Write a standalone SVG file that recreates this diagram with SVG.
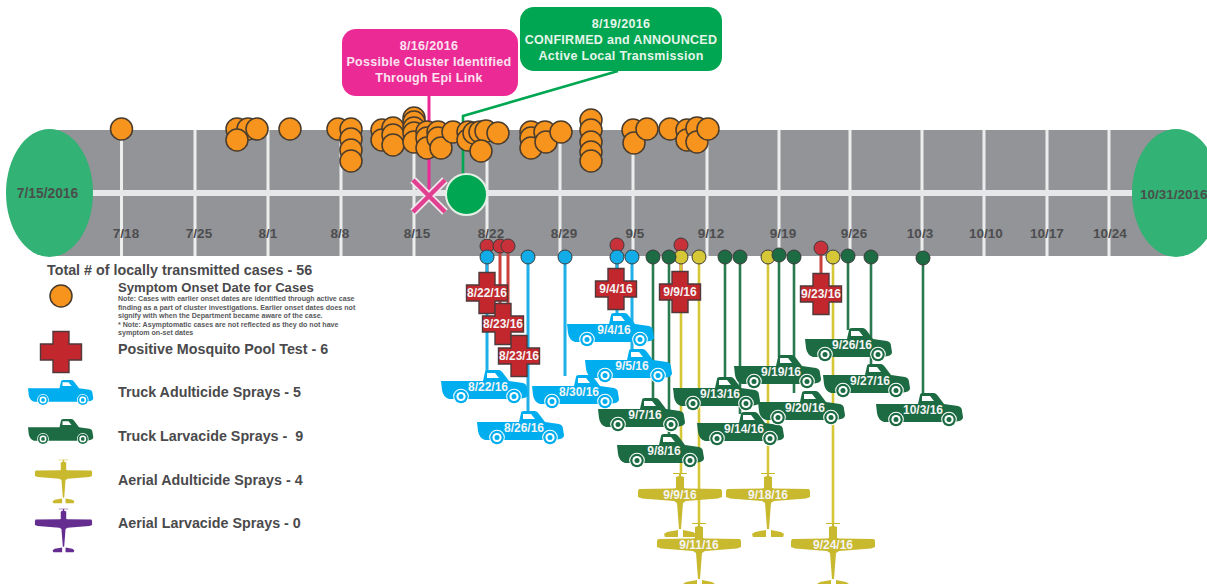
<svg xmlns="http://www.w3.org/2000/svg" width="1207" height="584" viewBox="0 0 1207 584">
<style>
text{font-family:"Liberation Sans",Arial,sans-serif;font-weight:700}
.tick{font-size:13.5px;fill:#4d4d4f;text-anchor:middle}
.leg{font-size:14.3px;fill:#4a4a4c}
.note{font-size:7.1px;fill:#58595b}
.lab{font-size:12px;fill:#f4f4f4;text-anchor:middle}
.call{font-size:12.5px;text-anchor:middle;letter-spacing:.3px}
.o{fill:#f7941e;stroke:#4a3c2c;stroke-width:1.5}
.d{stroke:#3c3c3c;stroke-width:1}
.grid{stroke:#eceded;stroke-width:3}
.cb{fill:none;stroke-width:3}
.red{stroke:#c9403c}.blue{stroke:#1fb0e8}.gr{stroke:#2a7a50;stroke-width:2.6}.ye{stroke:#d6c736;stroke-width:2.6}
</style>
<defs>
<g id="truck"><path d="M0,11L42,11L44,2Q44,0 47,0L58,0Q60,0 62,3L68,11L82,13Q86,14 86,18L87,24Q87,27 83,28L78,29L8,29Q2,27 1,20Z"/><path d="M46,3L54,3L58,8L46,8Z" fill="#fff"/><circle cx="20" cy="26.500" r="7.800" fill="#fff"/><circle cx="73" cy="26.500" r="7.800" fill="#fff"/><circle cx="20" cy="26.500" r="6.800"/><circle cx="73" cy="26.500" r="6.800"/><circle cx="20" cy="26.500" r="4.600" fill="#fff"/><circle cx="73" cy="26.500" r="4.600" fill="#fff"/><circle cx="20" cy="26.500" r="2.500"/><circle cx="73" cy="26.500" r="2.500"/></g>
<g id="plane"><path d="M-7,1L7,1L7,2L1,2L1,4L4,5L4,16L6,16.500L41,17L42,19L42,25L38,26.500L6,29L3,31L1,57L-1,57L-3,31L-6,29L-38,26.500L-42,25L-42,19L-41,17L-6,16.500L-4,16L-4,5L-1,4L-1,2L-7,2Z"/><path d="M-2,58L-2,65L-15,65L-16,62L-13,60ZM3,58L3,65L15,65L16,62L13,60Z"/></g>
<path id="cross" d="M-8,-20.500H8V-8H20.500V8H8V20.500H-8V8H-20.500V-8H-8Z" fill="#c1272d" stroke="#50393a" stroke-width="1.400"/>
</defs>
<g id="timeline">
<rect x="48" y="130" width="1127" height="126" fill="#929497"/>
<path class="grid" d="M121.500,130V256M195,130V256M268,130V256M341,130V256M414,130V256M487,130V256M560,130V256M633,130V256M707,130V256M779,130V256M850,130V256M922,130V256M984,130V256M1047,130V256M1109,130V256"/>
<rect x="48" y="190" width="1127" height="6" fill="#e6e7e8"/>
<text class="tick" x="126" y="238">7/18</text><text class="tick" x="199" y="238">7/25</text><text class="tick" x="268" y="238">8/1</text><text class="tick" x="340" y="238">8/8</text><text class="tick" x="417" y="238">8/15</text><text class="tick" x="491" y="238">8/22</text><text class="tick" x="564" y="238">8/29</text><text class="tick" x="635" y="238">9/5</text><text class="tick" x="711" y="238">9/12</text><text class="tick" x="783" y="238">9/19</text><text class="tick" x="854" y="238">9/26</text><text class="tick" x="920" y="238">10/3</text><text class="tick" x="986" y="238">10/10</text><text class="tick" x="1047" y="238">10/17</text><text class="tick" x="1110" y="238">10/24</text>
</g>
<g id="start"><ellipse cx="49.500" cy="193" rx="43.500" ry="64" fill="#32b274"/><text x="47.500" y="198" font-size="13.800" fill="#4a4f4c" text-anchor="middle">7/15/2016</text></g>
<g id="end"><ellipse cx="1176" cy="193" rx="44" ry="64" fill="#32b274"/><text x="1140" y="199" font-size="13.500" fill="#4a4f4c">10/31/2016</text></g>
<g id="connectors">
<path d="M429,96V194" fill="none" stroke="#ec2a96" stroke-width="3"/>
<path d="M618,71L463,116V175" fill="none" stroke="#00a651" stroke-width="2.600"/>
<g class="cb red"><path d="M487,246V275M500,246V305M508,246V340M617,245V270M681,245V275M821,248V275"/></g>
<g class="cb blue"><path d="M487,257V372M528,257V412M565,257V376M617,257V315M632,257V351"/></g>
<g class="cb gr"><path d="M653,257V400M669,257V436M725,257V379M740,257V414M779,257V357M794,257V393M848,257V330M871,257V366M923,257V395"/></g>
<g class="cb ye"><path d="M681,257V474M699,257V524M768,257V474M833,257V524"/></g>
</g>
<g id="cases">
<circle class="o" cx="121.500" cy="129" r="11"/><circle class="o" cx="237" cy="129" r="11"/><circle class="o" cx="248" cy="129" r="11"/><circle class="o" cx="237" cy="140" r="11"/><circle class="o" cx="257" cy="129" r="11"/><circle class="o" cx="290" cy="129" r="11"/><circle class="o" cx="338" cy="129" r="11"/><circle class="o" cx="351" cy="129" r="11"/><circle class="o" cx="351" cy="139" r="11"/><circle class="o" cx="351" cy="150" r="11"/><circle class="o" cx="351" cy="161" r="11"/>
<circle class="o" cx="382" cy="130" r="11"/><circle class="o" cx="382" cy="140" r="11"/><circle class="o" cx="393" cy="128" r="11"/><circle class="o" cx="393" cy="135" r="11"/><circle class="o" cx="393" cy="145" r="11"/>
<circle class="o" cx="414" cy="118" r="11"/><circle class="o" cx="414" cy="122" r="11"/><circle class="o" cx="414" cy="128" r="11"/><circle class="o" cx="414" cy="133" r="11"/><circle class="o" cx="414" cy="142" r="11"/>
<circle class="o" cx="427" cy="132" r="11"/><circle class="o" cx="427" cy="138" r="11"/><circle class="o" cx="427" cy="148" r="11"/><circle class="o" cx="438" cy="132" r="11"/><circle class="o" cx="438" cy="138" r="11"/><circle class="o" cx="441" cy="148" r="11"/><circle class="o" cx="453" cy="132" r="11"/>
<circle class="o" cx="468" cy="132" r="11"/><circle class="o" cx="468" cy="140" r="11"/><circle class="o" cx="474" cy="133" r="11"/><circle class="o" cx="480" cy="132" r="11"/><circle class="o" cx="486" cy="131" r="11"/><circle class="o" cx="481" cy="151" r="11"/><circle class="o" cx="498" cy="133" r="11"/>
<circle class="o" cx="531" cy="132" r="11"/><circle class="o" cx="531" cy="138" r="11"/><circle class="o" cx="531" cy="148" r="11"/><circle class="o" cx="545" cy="132" r="11"/><circle class="o" cx="546" cy="142" r="11"/><circle class="o" cx="561" cy="132" r="11"/>
<circle class="o" cx="591" cy="120" r="11"/><circle class="o" cx="591" cy="130" r="11"/><circle class="o" cx="591" cy="142" r="11"/><circle class="o" cx="591" cy="152" r="11"/><circle class="o" cx="591" cy="161" r="11"/>
<circle class="o" cx="633" cy="130" r="11"/><circle class="o" cx="634" cy="143" r="11"/><circle class="o" cx="647" cy="129" r="11"/>
<circle class="o" cx="670" cy="129" r="11"/><circle class="o" cx="687" cy="130" r="11"/><circle class="o" cx="687" cy="140" r="11"/><circle class="o" cx="697" cy="128" r="11"/><circle class="o" cx="697" cy="142" r="11"/><circle class="o" cx="708" cy="129" r="11"/>
</g>
<g id="cluster-x"><path d="M413,180L445,212M445,180L413,212" stroke="#f3e4ec" stroke-width="8" fill="none"/><path d="M413,180L445,212M445,180L413,212" stroke="#e0408f" stroke-width="4.500" fill="none"/></g>
<g id="confirmed-dot"><circle cx="466.500" cy="194.500" r="20.500" fill="#00a651" stroke="#e4efe6" stroke-width="2"/></g>
<g id="callout-816"><rect x="342" y="29" width="176" height="67" rx="14" fill="#ec2a96"/><g class="call" fill="#fbe3ef"><text x="429" y="50">8/16/2016</text><text x="429" y="66">Possible Cluster Identified</text><text x="429" y="82">Through Epi Link</text></g></g>
<g id="callout-819"><rect x="520" y="7" width="202" height="64" rx="14" fill="#00a651"/><g class="call" fill="#e6f5ea"><text x="621" y="28">8/19/2016</text><text x="621" y="44">CONFIRMED and ANNOUNCED</text><text x="621" y="60">Active Local Transmission</text></g></g>
<g id="dots">
<g fill="#c8313a" class="d"><circle cx="487" cy="246" r="7"/><circle cx="500" cy="246" r="7"/><circle cx="508" cy="246" r="7"/><circle cx="617" cy="245" r="7"/><circle cx="681" cy="245" r="7"/><circle cx="821" cy="248" r="7"/></g>
<g fill="#12ade8" class="d"><circle cx="487" cy="257" r="7"/><circle cx="528" cy="257" r="7"/><circle cx="565" cy="257" r="7"/><circle cx="617" cy="257" r="7"/><circle cx="632" cy="257" r="7"/></g>
<g fill="#d6c736" class="d"><circle cx="681" cy="257" r="7"/><circle cx="699" cy="257" r="7"/><circle cx="768" cy="257" r="7"/><circle cx="833" cy="257" r="7"/></g>
<g fill="#1c6b42" class="d"><circle cx="653" cy="257" r="7"/><circle cx="669" cy="257" r="7"/><circle cx="725" cy="257" r="7"/><circle cx="740" cy="257" r="7"/><circle cx="779" cy="255" r="7"/><circle cx="794" cy="257" r="7"/><circle cx="848" cy="256" r="7"/><circle cx="871" cy="257" r="7"/><circle cx="923" cy="258" r="7"/></g>
</g>
<g fill="#00aeef">
<g id="truck-0822" transform="translate(441,370)"><use href="#truck"/><text class="lab" x="47" y="21">8/22/16</text></g>
<g id="truck-0826" transform="translate(477,411)"><use href="#truck"/><text class="lab" x="47" y="21">8/26/16</text></g>
<g id="truck-0830" transform="translate(532,375)"><use href="#truck"/><text class="lab" x="47" y="21">8/30/16</text></g>
<g id="truck-0904" transform="translate(567,313)"><use href="#truck"/><text class="lab" x="47" y="21">9/4/16</text></g>
<g id="truck-0905" transform="translate(585,349)"><use href="#truck"/><text class="lab" x="47" y="21">9/5/16</text></g>
</g>
<g fill="#1c6b42">
<g id="truck-0907" transform="translate(598,398)"><use href="#truck"/><text class="lab" x="47" y="21">9/7/16</text></g>
<g id="truck-0908" transform="translate(617,434)"><use href="#truck"/><text class="lab" x="47" y="21">9/8/16</text></g>
<g id="truck-0913" transform="translate(673,377)"><use href="#truck"/><text class="lab" x="47" y="21">9/13/16</text></g>
<g id="truck-0914" transform="translate(697,412)"><use href="#truck"/><text class="lab" x="47" y="21">9/14/16</text></g>
<g id="truck-0919" transform="translate(734,355)"><use href="#truck"/><text class="lab" x="47" y="21">9/19/16</text></g>
<g id="truck-0920" transform="translate(758,391)"><use href="#truck"/><text class="lab" x="47" y="21">9/20/16</text></g>
<g id="truck-0926" transform="translate(805,328)"><use href="#truck"/><text class="lab" x="47" y="21">9/26/16</text></g>
<g id="truck-0927" transform="translate(823,364)"><use href="#truck"/><text class="lab" x="47" y="21">9/27/16</text></g>
<g id="truck-1003" transform="translate(876,393)"><use href="#truck"/><text class="lab" x="47" y="21">10/3/16</text></g>
</g>
<g id="pool-0822a" transform="translate(487,293)"><use href="#cross"/><text class="lab" y="4">8/22/16</text></g>
<g id="pool-0823a" transform="translate(503,324)"><use href="#cross"/><text class="lab" y="4">8/23/16</text></g>
<g id="pool-0823b" transform="translate(519,356)"><use href="#cross"/><text class="lab" y="4">8/23/16</text></g>
<g id="pool-0904" transform="translate(616,289)"><use href="#cross"/><text class="lab" y="4">9/4/16</text></g>
<g id="pool-0909" transform="translate(680,292)"><use href="#cross"/><text class="lab" y="4">9/9/16</text></g>
<g id="pool-0923" transform="translate(821,294)"><use href="#cross"/><text class="lab" y="4">9/23/16</text></g>
<g fill="#c9b92f">
<g id="plane-0909" transform="translate(680,472)"><use href="#plane"/><text class="lab" y="27">9/9/16</text></g>
<g id="plane-0918" transform="translate(768,472)"><use href="#plane"/><text class="lab" y="27">9/18/16</text></g>
<g id="plane-0911" transform="translate(699,522)"><use href="#plane"/><text class="lab" y="27">9/11/16</text></g>
<g id="plane-0924" transform="translate(833,522)"><use href="#plane"/><text class="lab" y="27">9/24/16</text></g>
</g>
<g id="legend">
<text class="leg" x="47" y="275">Total # of locally transmitted cases - 56</text>
<circle class="o" cx="61" cy="296" r="11"/>
<text class="leg" x="118" y="292" style="font-size:13.100px">Symptom Onset Date for Cases</text>
<text class="note" x="118" y="301">Note: Cases with earlier onset dates are identified through active case</text>
<text class="note" x="118" y="309.500">finding as a part of cluster investigations. Earlier onset dates does not</text>
<text class="note" x="118" y="318">signify with when the Department became aware of the case.</text>
<text class="note" x="118" y="326.500">* Note: Asymptomatic cases are not reflected as they do not have</text>
<text class="note" x="118" y="335">symptom on-set dates</text>
<use href="#cross" transform="translate(61,352)"/>
<text class="leg" x="118" y="354">Positive Mosquito Pool Test - 6</text>
<use href="#truck" transform="translate(28,380) scale(.75)" fill="#00aeef"/>
<text class="leg" x="118" y="397">Truck Adulticide Sprays - 5</text>
<use href="#truck" transform="translate(28,419) scale(.75)" fill="#1c6b42"/>
<text class="leg" x="118" y="441" xml:space="preserve">Truck Larvacide Sprays -  9</text>
<use href="#plane" transform="translate(63.500,459) scale(.68)" fill="#c9b92f"/>
<text class="leg" x="118" y="485">Aerial Adulticide Sprays - 4</text>
<use href="#plane" transform="translate(63.500,508) scale(.68)" fill="#662d91"/>
<text class="leg" x="118" y="528">Aerial Larvacide Sprays - 0</text>
</g>
</svg>
